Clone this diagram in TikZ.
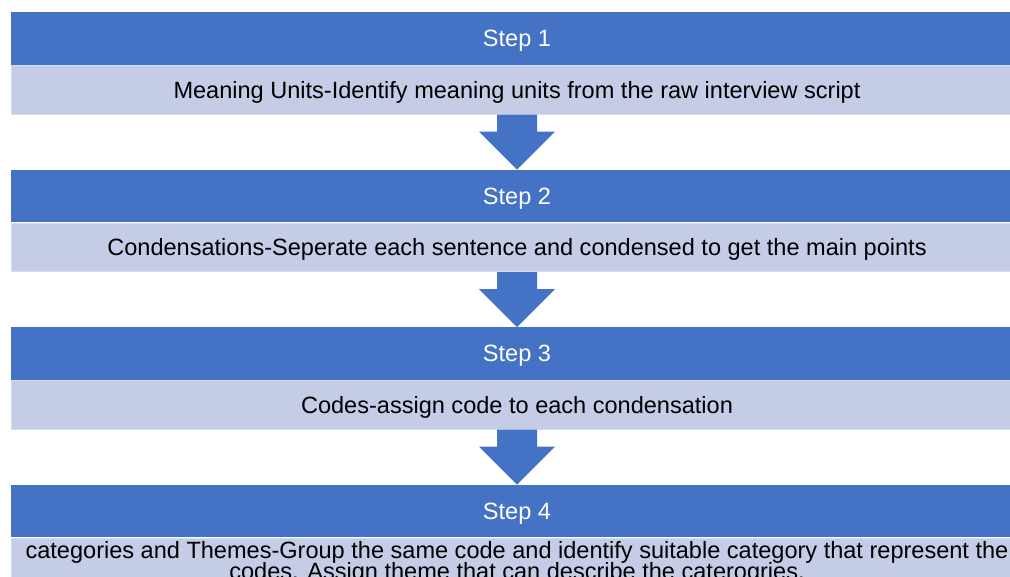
\documentclass[tikz,border=0pt]{standalone}
\usepackage{fontspec}
\setmainfont{Liberation Sans}
\usetikzlibrary{calc,positioning}
\definecolor{stepblue}{HTML}{4472C4}
\definecolor{rowsoft}{HTML}{C4CCE6}
\definecolor{rowline}{HTML}{D6DBEE}
\tikzset{
  headbar/.style={rectangle,fill=stepblue,text=white,minimum width=20.24cm,minimum height=1.05cm,inner sep=0pt,text depth=0pt,font=\fontsize{13.4}{15}\selectfont},
  rowbar/.style={rectangle,fill=rowsoft,draw=rowline,line width=0.5pt,text=black,minimum width=20.24cm,minimum height=0.97cm,inner sep=0pt,text depth=0pt,align=center,font=\fontsize{13.4}{13.7}\selectfont},
  blockarrow/.style={fill=stepblue}
}
\begin{document}
\begin{tikzpicture}[x=0.02cm,y=-0.02cm]
  \clip (0,0) rectangle (1010,577);
  \fill[white] (0,0) rectangle (1010,577);

  \node[headbar,anchor=north] (head1) at (517,12) {Step 1};
  \node[rowbar,below=0pt of head1] (row1) {Meaning Units-Identify meaning units from the raw interview script};

  \node[headbar,below=1.1cm of row1] (head2) {Step 2};
  \node[rowbar,below=0pt of head2] (row2) {Condensations-Seperate each sentence and condensed to get the main points};

  \node[headbar,below=1.1cm of row2] (head3) {Step 3};
  \node[rowbar,below=0pt of head3] (row3) {Codes-assign code to each condensation};

  \node[headbar,below=1.1cm of row3] (head4) {Step 4};
  \node[rowbar,below=0pt of head4,minimum height=0.9cm] (row4) {categories and Themes-Group the same code and identify suitable category that represent the\\[-1.7pt]codes. Assign theme that can describe the caterogries.};

  % down arrows between the steps
  \foreach \a/\b in {row1/head2,row2/head3,row3/head4} {
    \fill[blockarrow] ($(\a.south)+(-20,0)$) -- ($(\a.south)+(20,0)$) -- ($(\a.south)+(20,17)$)
      -- ($(\a.south)+(38,17)$) -- (\b.north) -- ($(\a.south)+(-38,17)$)
      -- ($(\a.south)+(-20,17)$) -- cycle;
  }
\end{tikzpicture}
\end{document}
